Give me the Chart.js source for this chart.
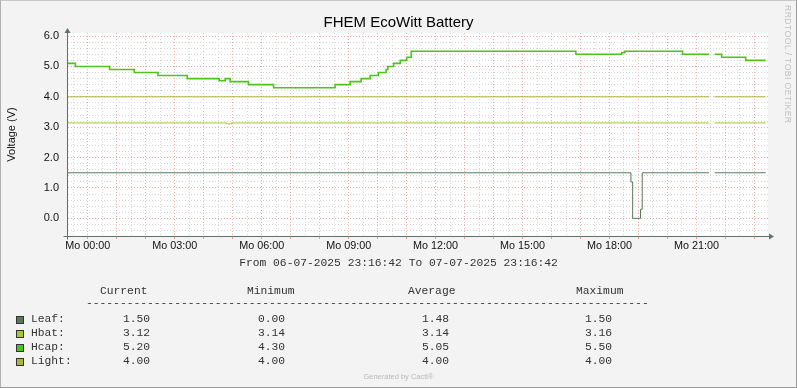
<!DOCTYPE html>
<html>
<head>
<meta charset="utf-8">
<script src="https://cdn.jsdelivr.net/npm/chart.js@4.4.1/dist/chart.umd.min.js"></script>
<style>
html, body { margin: 0; padding: 0; background: #f3f3f3; }
#wrap { position: relative; width: 797px; height: 388px; overflow: hidden; background: #f3f3f3; }
#frame { position: absolute; left: 0; top: 0; width: 797px; height: 388px; box-sizing: border-box;
  border: 1px solid #9a9a9a; border-top-color: #c8c8c8; border-left-color: #b0b0b0; pointer-events: none; }
.mono { position: absolute; white-space: pre; font-family: "Liberation Mono", monospace; font-size: 11.3px;
  line-height: 14px; color: #333; }
.sq { position: absolute; width: 6px; height: 6px; border: 1px solid #333; }
#water { position: absolute; left: 783px; top: 5px; writing-mode: vertical-rl; font-family: "Liberation Sans", sans-serif;
  font-size: 8.7px; color: #c0c0c0; letter-spacing: 0.4px; }
#gen { position: absolute; left: 0; width: 797px; top: 372px; text-align: center; font-family: "Liberation Sans", sans-serif;
  font-size: 7.5px; color: #b8b8b8; }
</style>
</head>
<body>
<div id="wrap">
  <canvas id="batteryChart" width="797" height="388"></canvas>
  <div id="water">RRDTOOL / TOBI OETIKER</div>
  <div id="period" class="mono" style="left:0;width:797px;text-align:center;top:256px;">From 06-07-2025 23:16:42 To 07-07-2025 23:16:42</div>
  <div id="legend"></div>
  <div id="gen">Generated by Cacti®</div>
  <div id="frame"></div>
</div>
<script>
// x values are hours relative to Mo 00:00
const xTickHours = [0, 3, 6, 9, 12, 15, 18, 21];
const xTickLabels = ['Mo 00:00', 'Mo 03:00', 'Mo 06:00', 'Mo 09:00', 'Mo 12:00', 'Mo 15:00', 'Mo 18:00', 'Mo 21:00'];
const yTickValues = [0, 1, 2, 3, 4, 5, 6];
const yTickLabels = ['0.0', '1.0', '2.0', '3.0', '4.0', '5.0', '6.0'];

const leafHours = [-0.72, 18.74, 18.80, 19.07, 19.13, 21.44, 21.45, 21.63, 23.39];
const leafVolts = [1.5, 1.2, 0.0, 0.3, 1.5, 1.5, null, 1.5, 1.5];

const hbatHours = [-0.72, 4.79, 4.95, 21.44, 21.45, 21.63, 23.39];
const hbatVolts = [3.14, 3.11, 3.14, 3.14, null, 3.14, 3.14];

const hcapHours = [-0.72, -0.43, 0.75, 1.60, 2.42, 3.43, 4.53, 4.74, 4.91, 5.54, 6.41, 8.53, 9.05, 9.43, 9.74,
  10.02, 10.29, 10.35, 10.55, 10.78, 11.00, 11.16, 16.84, 18.42, 18.53, 20.52, 21.44, 21.45, 21.63, 21.87, 22.70, 23.39];
const hcapVolts = [5.1, 5.0, 4.9, 4.8, 4.7, 4.6, 4.53, 4.6, 4.5, 4.4, 4.3, 4.4, 4.5, 4.6, 4.7,
  4.8, 4.9, 5.0, 5.1, 5.2, 5.3, 5.5, 5.4, 5.45, 5.5, 5.4, 5.4, null, 5.4, 5.3, 5.2, 5.2];

const lightHours = [-0.72, 21.44, 21.45, 21.63, 23.39];
const lightVolts = [4.0, 4.0, null, 4.0, 4.0];

const seriesNames = ['Leaf', 'Hbat', 'Hcap', 'Light'];
const seriesColors = ['#587858', '#a2c834', '#4cc41a', '#aab43c'];
const currentVals = ['1.50', '3.12', '5.20', '4.00'];
const minimumVals = ['0.00', '3.14', '4.30', '4.00'];
const averageVals = ['1.48', '3.14', '5.05', '4.00'];
const maximumVals = ['1.50', '3.16', '5.50', '4.00'];

const axisColor = '#5a7566';

function toPoints(hours, volts) {
    return hours.map((h, i) => ({x: h, y: volts[i]}));
}

// grid positions: every half hour, every 0.2 V
const xGrid = [];
for (let k = -1; k <= 46; k++) xGrid.push(k / 2);
const yGrid = [];
for (let k = -2; k <= 30; k++) yGrid.push(Math.round(k * 2) / 10);

const isWhole = v => Math.abs(v - Math.round(v)) < 1e-6;

const plotBack = {
    id: 'plotBack',
    beforeDraw(chart) {
        const {ctx, chartArea: a} = chart;
        ctx.save();
        ctx.fillStyle = '#ffffff';
        ctx.fillRect(a.left, a.top, a.right - a.left, a.bottom - a.top);
        ctx.restore();
    },
    afterDraw(chart) {
        const {ctx, chartArea: a} = chart;
        const x0 = Math.round(a.left) + 0.5, y0 = Math.round(a.bottom) + 0.5;
        ctx.save();
        ctx.strokeStyle = axisColor;
        ctx.fillStyle = axisColor;
        ctx.lineWidth = 1;
        ctx.beginPath();
        ctx.moveTo(x0 - 4, y0); ctx.lineTo(a.right + 2, y0);
        ctx.moveTo(x0, y0 + 3); ctx.lineTo(x0, a.top - 2);
        ctx.stroke();
        ctx.beginPath();
        ctx.moveTo(a.right + 6, y0); ctx.lineTo(a.right + 1, y0 - 3); ctx.lineTo(a.right + 1, y0 + 3);
        ctx.closePath(); ctx.fill();
        ctx.beginPath();
        ctx.moveTo(x0, a.top - 5); ctx.lineTo(x0 - 3, a.top); ctx.lineTo(x0 + 3, a.top);
        ctx.closePath(); ctx.fill();
        ctx.restore();
    }
};

const ctx = document.getElementById('batteryChart').getContext('2d');

const data = {
    datasets: [
        {label: 'Light', data: toPoints(lightHours, lightVolts), borderColor: seriesColors[3], borderWidth: 1},
        {label: 'Hcap', data: toPoints(hcapHours, hcapVolts), borderColor: seriesColors[2], borderWidth: 1.6},
        {label: 'Hbat', data: toPoints(hbatHours, hbatVolts), borderColor: seriesColors[1], borderWidth: 1},
        {label: 'Leaf', data: toPoints(leafHours, leafVolts), borderColor: seriesColors[0], borderWidth: 1}
    ]
};

const config = {
    type: 'line',
    data: data,
    plugins: [plotBack],
    options: {
        responsive: false,
        animation: false,
        spanGaps: false,
        layout: {padding: {left: 0, right: 0, top: 0, bottom: 132}},
        elements: {point: {radius: 0}, line: {tension: 0, stepped: 'before', fill: false}},
        plugins: {
            legend: {display: false},
            tooltip: {enabled: false},
            title: {
                display: true,
                text: 'FHEM EcoWitt Battery',
                color: '#000',
                font: {family: 'Liberation Sans', size: 15, weight: 'normal'},
                padding: {top: 14, bottom: 1}
            }
        },
        scales: {
            x: {
                type: 'linear',
                min: -0.72,
                max: 23.47,
                afterBuildTicks: ax => { ax.ticks = xGrid.map(v => ({value: v})); },
                afterFit: ax => { ax.height = 20; },
                ticks: {
                    autoSkip: false,
                    maxRotation: 0,
                    padding: 1,
                    color: '#111',
                    font: {family: 'Liberation Sans', size: 10.8},
                    callback: v => {
                        const i = xTickHours.indexOf(v);
                        return i >= 0 ? xTickLabels[i] : '';
                    }
                },
                grid: {
                    color: c => isWhole(c.tick.value) ? '#f2abab' : '#d6d6d6',
                    tickColor: c => isWhole(c.tick.value) ? '#e89a9a' : 'rgba(0,0,0,0)',
                    tickLength: 3,
                    lineWidth: 1
                },
                border: {color: axisColor, width: 1, dash: [1, 2]}
            },
            y: {
                min: -0.58,
                max: 6.1,
                afterBuildTicks: ax => { ax.ticks = yGrid.map(v => ({value: v})); },
                afterFit: ax => { ax.width = 67; },
                ticks: {
                    autoSkip: false,
                    padding: 8,
                    color: '#111',
                    font: {family: 'Liberation Sans', size: 11},
                    callback: v => {
                        const i = yTickValues.findIndex(t => Math.abs(t - v) < 1e-6);
                        return i >= 0 ? yTickLabels[i] : '';
                    }
                },
                grid: {
                    drawTicks: false,
                    color: c => isWhole(c.tick.value) ? '#f2abab' : '#d6d6d6',
                    lineWidth: 1
                },
                border: {color: axisColor, width: 1, dash: [1, 2]},
                title: {
                    display: true,
                    text: 'Voltage (V)',
                    color: '#111',
                    font: {family: 'Liberation Sans', size: 11},
                    padding: {top: 5, bottom: 0}
                }
            },
            // empty right-hand box keeping the plot clear of the watermark
            yRight: {
                type: 'linear',
                position: 'right',
                afterFit: ax => { ax.width = 29; },
                ticks: {display: false},
                grid: {display: false, drawTicks: false},
                border: {display: false}
            }
        }
    }
};

const batteryChart = new Chart(ctx, config);

// legend table below the plot
const legend = document.getElementById('legend');
const cols = [123, 258, 422, 585];
const heads = [['Current', 100], ['Minimum', 247], ['Average', 408], ['Maximum', 576]];
let html = '';
heads.forEach(h => { html += `<div class="mono" style="left:${h[1]}px;top:284px;">${h[0]}</div>`; });
html += `<div class="mono" style="left:86px;top:296px;">${'-'.repeat(83)}</div>`;
seriesNames.forEach((name, i) => {
    const top = 312 + i * 13.9;
    html += `<div class="sq" style="left:16px;top:${top + 4}px;background:${seriesColors[i]};"></div>`;
    html += `<div class="mono" style="left:31px;top:${top}px;">${name}:</div>`;
    [currentVals, minimumVals, averageVals, maximumVals].forEach((arr, j) => {
        html += `<div class="mono" style="left:${cols[j]}px;top:${top}px;">${arr[i]}</div>`;
    });
});
legend.innerHTML = html;
</script>
</body>
</html>
